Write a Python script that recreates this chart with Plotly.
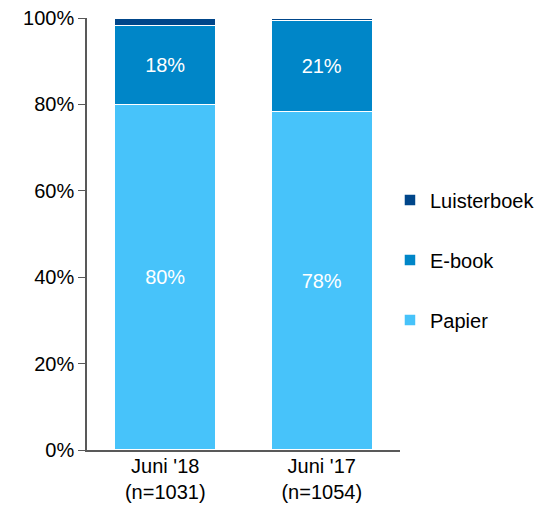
import plotly.graph_objects as go

categories = ["Juni '18<br>(n=1031)", "Juni '17<br>(n=1054)"]
papier = [80.0, 78.4]
ebook = [18.3, 21.0]
luisterboek = [1.7, 0.6]

font = "Liberation Sans, Arial, sans-serif"
fig = go.Figure()
series = [
    ("Papier", papier, "#47C3FA", True, 3),
    ("E-book", ebook, "#0086C8", True, 2),
    ("Luisterboek", luisterboek, "#00468A", False, 1),
]
for name, vals, col, lab, rank in series:
    fig.add_trace(go.Bar(
        x=categories, y=vals, name=name, legendgroup=name, legendrank=rank,
        marker=dict(color=col, line=dict(color="white", width=1.5)),
        texttemplate="%{y:.0f}%" if lab else None,
        text=vals if lab else None,
        textposition="inside" if lab else "none",
        insidetextanchor="middle",
        textfont=dict(color="white", size=20, family=font),
        hoverinfo="skip",
    ))

fig.update_layout(
    barmode="stack", bargap=0.35,
    width=527, height=496,
    margin=dict(l=79, r=135, t=10, b=54, autoexpand=False),
    paper_bgcolor="white", plot_bgcolor="white",
    font=dict(family=font, size=20, color="#000000"),
    showlegend=True,
    legend=dict(x=0.968, y=0.44, xanchor="left", yanchor="middle",
                traceorder="grouped", tracegroupgap=31,
                font=dict(size=20, family=font), itemwidth=30),
    uniformtext=dict(minsize=10, mode="show"),
)
fig.update_yaxes(range=[0, 100], tickvals=[0, 20, 40, 60, 80, 100],
                 ticktext=["0%", "20%", "40%", "60%", "80%", "100%"],
                 showgrid=False, showline=True, linecolor="#595959", linewidth=1.5,
                 ticks="outside", ticklen=7, tickcolor="#595959", zeroline=False,
                 tickfont=dict(size=20), automargin=False, ticklabeloverflow="allow")
fig.update_xaxes(showline=True, linecolor="#595959", linewidth=1.5, ticks="",
                 range=[-0.5, 1.5], tickfont=dict(size=20), automargin=False,
                 ticklabeloverflow="allow", ticklabelstandoff=-3)
fig.write_html("out.html")
